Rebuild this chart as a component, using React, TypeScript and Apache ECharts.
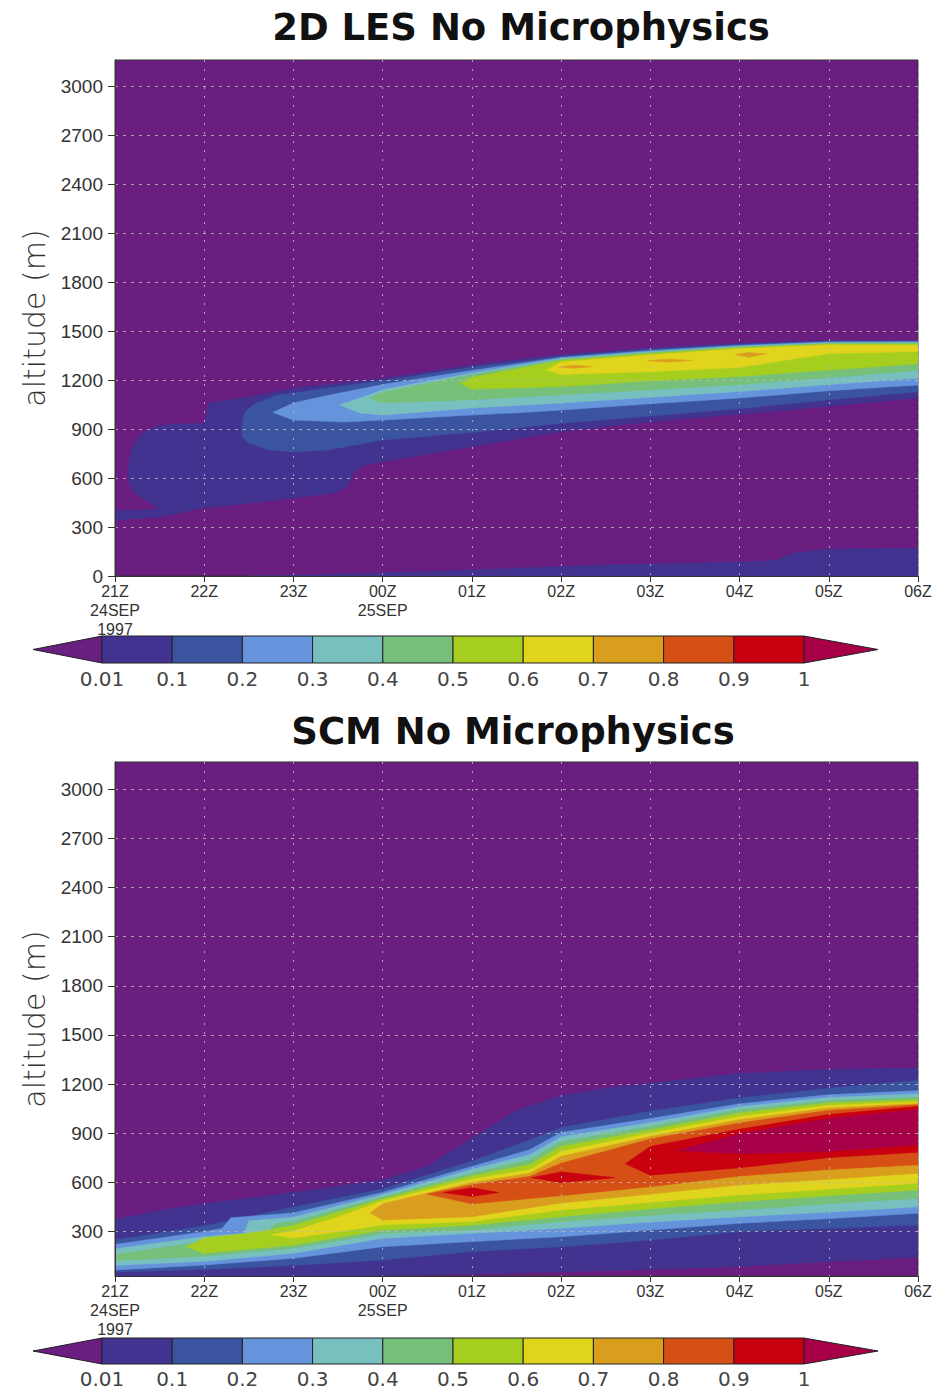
import React, { useEffect, useRef } from 'react';
import * as echarts from 'echarts';

// ---------- axis / legend values ----------
const TIME_LABELS = ['21Z\n24SEP\n1997', '22Z', '23Z', '00Z\n25SEP', '01Z', '02Z', '03Z', '04Z', '05Z', '06Z'];
const ALT_TICKS_LES = [0, 300, 600, 900, 1200, 1500, 1800, 2100, 2400, 2700, 3000];
const ALT_TICKS_SCM = [300, 600, 900, 1200, 1500, 1800, 2100, 2400, 2700, 3000];
const LEVEL_LABELS = ['0.01', '0.1', '0.2', '0.3', '0.4', '0.5', '0.6', '0.7', '0.8', '0.9', '1'];
// colour of: <0.01, 0.01-0.1, 0.1-0.2, ... 0.9-1, >1
const BAND_COLORS = ['#6a1e80', '#433391', '#3a54a0', '#6694dc', '#78c0c0', '#76c07a', '#a6ce1e', '#e0d41c', '#da9e1e', '#d65016', '#c80010', '#a80048'];

// ---------- 2D LES contour regions  [hours after 21Z, altitude m] ----------
const LES_B1_MAIN = [[0.15, 620], [0.15, 690], [0.18, 770], [0.24, 835], [0.32, 880], [0.45, 912], [0.6, 928], [1.0, 935], [1.05, 1060], [1.5, 1095], [2.0, 1150], [2.5, 1180], [3.0, 1210], [3.5, 1250], [4.0, 1292], [4.6, 1330], [5.0, 1355], [6.0, 1396], [7.0, 1425], [8.0, 1442], [9.0, 1442],
  [9.0, 1090], [8.0, 1040], [7.0, 990], [6.0, 945], [5.0, 885], [4.0, 792], [3.0, 700], [2.8, 680], [2.67, 630], [2.6, 545], [2.45, 508], [2.0, 477], [1.0, 416], [0.5, 362], [0.0, 343], [0.0, 400], [0.3, 403], [0.5, 410], [0.32, 470], [0.24, 500], [0.18, 540], [0.155, 580]];
const LES_B1_GROUND = [[1.5, 0], [2.5, 12], [3.5, 28], [4.5, 48], [5.5, 68], [7.0, 85], [7.4, 95], [7.6, 140], [8.0, 165], [9.0, 170], [9.0, 0]];
const LES_B2 = [[1.42, 900], [1.45, 1000], [1.55, 1050], [1.8, 1105], [2.38, 1150], [3.0, 1195], [4.0, 1278], [4.65, 1320], [5.0, 1345], [6.0, 1388], [7.0, 1418], [8.0, 1438], [9.0, 1438],
  [9.0, 1128], [8.0, 1080], [7.0, 1025], [6.0, 980], [5.0, 935], [4.0, 880], [3.0, 833], [2.38, 772], [2.0, 760], [1.7, 775], [1.5, 815], [1.43, 850]];
const LES_B3 = [[1.77, 1002], [2.0, 1060], [2.38, 1105], [3.0, 1172], [4.0, 1258], [4.65, 1310], [5.0, 1338], [6.0, 1380], [7.0, 1412], [8.0, 1433], [9.0, 1434],
  [9.0, 1170], [8.0, 1135], [7.0, 1090], [6.0, 1055], [5.0, 1016], [4.65, 1004], [4.0, 986], [3.0, 955], [2.56, 943], [2.0, 955]];
const LES_B4 = [[2.52, 1047], [2.8, 1100], [3.0, 1140], [4.0, 1242], [4.65, 1300], [5.0, 1332], [6.0, 1374], [7.0, 1407], [8.0, 1428], [9.0, 1430],
  [9.0, 1212], [8.0, 1172], [7.0, 1130], [6.0, 1095], [5.0, 1060], [4.0, 1029], [3.0, 986], [2.75, 998]];
const LES_B5 = [[2.85, 1090], [3.0, 1125], [4.0, 1232], [5.0, 1326], [6.0, 1368], [7.0, 1402], [8.0, 1424], [9.0, 1426],
  [9.0, 1258], [8.0, 1215], [7.0, 1172], [6.0, 1140], [5.0, 1110], [4.0, 1080], [3.0, 1059]];
const LES_B6 = [[3.87, 1180], [4.0, 1215], [5.0, 1320], [6.0, 1362], [7.0, 1398], [8.0, 1420], [9.0, 1420],
  [9.0, 1300], [8.0, 1262], [7.0, 1222], [6.0, 1195], [5.0, 1160], [4.0, 1145]];
const LES_B7 = [[4.84, 1262], [5.0, 1310], [6.0, 1353], [7.0, 1392], [8.0, 1415], [9.0, 1412],
  [9.0, 1375], [8.0, 1362], [7.0, 1278], [6.0, 1251], [5.0, 1235]];
const LES_B8_A = [[4.98, 1280], [5.15, 1290], [5.35, 1283], [5.15, 1272]];
const LES_B8_B = [[5.97, 1318], [6.2, 1328], [6.47, 1320], [6.2, 1310]];
const LES_B8_C = [[6.95, 1356], [7.1, 1368], [7.3, 1360], [7.1, 1340]];

// ---------- SCM contour regions ----------
const SCM_B1 = [[0, 375], [0.5, 430], [1, 470], [2, 540], [3, 615], [3.5, 700], [4, 870], [4.5, 1040], [5, 1130], [5.5, 1175], [6, 1206], [7, 1265], [8, 1290], [9, 1298],
  [9, 148], [8.5, 130], [8, 118], [7, 88], [6, 70], [5, 56], [4, 42], [3, 33], [2.5, 30], [0, 30]];
const SCM_B2 = [[0, 250], [1, 335], [2, 450], [3, 560], [4, 730], [4.65, 860], [5, 935], [6, 1035], [7, 1115], [8, 1175], [9, 1222],
  [9, 342], [8, 320], [7, 301], [6, 250], [5, 209], [4, 179], [3, 128], [2, 95], [1, 70], [0, 55]];
const SCM_B3 = [[0, 222], [1, 300], [1.2, 320], [1.3, 385], [1.9, 410], [2, 415], [3, 540], [4, 698], [4.65, 800], [5, 905], [6, 990], [7, 1080], [8, 1135], [9, 1160],
  [9, 413], [8, 380], [7, 352], [6, 310], [5, 270], [4, 240], [3, 209], [2, 138], [1, 97], [0, 67]];
const SCM_B4 = [[0, 195], [1, 270], [1.45, 290], [1.5, 365], [1.9, 384], [2, 388], [3, 525], [4, 680], [4.65, 770], [5, 878], [6, 965], [7, 1062], [8, 1118], [9, 1140],
  [9, 453], [8, 420], [7, 392], [6, 360], [5, 321], [4, 290], [3, 260], [2, 169], [1, 120], [0, 95]];
const SCM_B5 = [[0, 160], [1, 240], [1.7, 285], [1.8, 350], [2, 362], [3, 512], [4, 657], [4.65, 739], [5, 850], [6, 942], [7, 1044], [8, 1100], [9, 1120],
  [9, 504], [8, 470], [7, 433], [6, 400], [5, 362], [4, 311], [3, 290], [2, 200], [1, 150], [0, 125]];
const SCM_B6 = [[0.8, 209], [1, 262], [1.5, 290], [2, 338], [3, 500], [4, 640], [4.65, 710], [5, 820], [6, 920], [7, 1024], [8, 1085], [9, 1105],
  [9, 555], [8, 520], [7, 484], [6, 440], [5, 392], [4, 340], [3, 311], [2, 219], [1, 169]];
const SCM_B7 = [[1.75, 282], [2, 305], [2.5, 390], [3, 488], [4, 620], [4.65, 678], [5, 789], [6, 901], [7, 1003], [8, 1070], [9, 1092],
  [9, 596], [8, 560], [7, 525], [6, 480], [5, 433], [4, 362], [3, 342], [2.5, 300], [2, 262]];
const SCM_B8 = [[2.86, 415], [3, 470], [4, 600], [4.65, 657], [5, 759], [6, 881], [7, 983], [8, 1055], [9, 1082],
  [9, 657], [8, 620], [7, 586], [6, 530], [5, 476], [4, 392], [3, 372]];
const SCM_B9 = [[3.5, 530], [4, 586], [4.65, 637], [5, 718], [6, 865], [7, 963], [8, 1040], [9, 1074],
  [9, 708], [8, 680], [7, 640], [6, 575], [5, 520], [4, 470]];
const SCM_B10_MAIN = [[5.72, 715], [6, 820], [7, 925], [8, 1015], [9, 1064], [9, 785], [8, 752], [7, 690], [6, 645]];
const SCM_B10_S1 = [[3.68, 540], [4.0, 568], [4.3, 540], [4.0, 515]];
const SCM_B10_S2 = [[4.67, 630], [5.0, 665], [5.6, 630], [5.0, 600]];
const SCM_B11 = [[6.3, 795], [7, 897], [8, 990], [9, 1045], [9, 830], [8, 790], [7, 775]];

const LES_RINGS: [number, number[][]][] = [
  [1, LES_B1_MAIN], [1, LES_B1_GROUND], [2, LES_B2], [3, LES_B3], [4, LES_B4], [5, LES_B5], [6, LES_B6], [7, LES_B7],
  [8, LES_B8_A], [8, LES_B8_B], [8, LES_B8_C],
];
const SCM_RINGS: [number, number[][]][] = [
  [1, SCM_B1], [2, SCM_B2], [3, SCM_B3], [4, SCM_B4], [5, SCM_B5], [6, SCM_B6], [7, SCM_B7], [8, SCM_B8], [9, SCM_B9],
  [10, SCM_B10_MAIN], [10, SCM_B10_S1], [10, SCM_B10_S2], [11, SCM_B11],
];

const AXIS_COLOR = '#333';
const GRID_COLOR = 'rgba(185,185,185,0.85)';

function xAxisCfg(gi: number) {
  return {
    gridIndex: gi, type: 'value', min: 0, max: 9, interval: 1, z: 10,
    axisLine: { show: true, lineStyle: { color: AXIS_COLOR, width: 1 } },
    axisTick: { show: true, length: 6, lineStyle: { color: AXIS_COLOR } },
    axisLabel: {
      formatter: (v: number) => TIME_LABELS[Math.round(v)] ?? '',
      fontFamily: 'Liberation Sans', fontSize: 16, lineHeight: 19, color: '#333', margin: 6,
    },
    splitLine: { show: true, lineStyle: { color: GRID_COLOR, type: [2, 7], width: 1 } },
  };
}

function yAxisCfg(gi: number, min: number, max: number, ticks: number[]) {
  return {
    gridIndex: gi, type: 'value', min, max, z: 10,
    name: 'altitude (m)', nameLocation: 'middle', nameGap: 66, nameRotate: 90,
    nameTextStyle: { fontFamily: 'DejaVu Sans', fontSize: 30, color: '#333', fontWeight: 200 },
    axisLine: { show: true, lineStyle: { color: AXIS_COLOR, width: 1 } },
    axisTick: { show: true, length: 7, customValues: ticks, lineStyle: { color: AXIS_COLOR } },
    axisLabel: {
      customValues: ticks, margin: 12, fontFamily: 'Liberation Sans', fontSize: 19, color: '#333',
      formatter: (v: number) => String(Math.round(v)),
    },
    splitLine: { show: true, lineStyle: { color: GRID_COLOR, type: [3, 5], width: 1 } },
  };
}

function contourSeries(gi: number, rings: [number, number[][]][]) {
  return {
    type: 'custom', xAxisIndex: gi, yAxisIndex: gi, clip: true, silent: true, z: 2,
    data: rings.map((r) => [r[1][0][0], r[1][0][1]]),
    encode: { x: 0, y: 1 },
    renderItem: (params: any, api: any) => {
      const r = rings[params.dataIndex];
      const c = BAND_COLORS[r[0]];
      return {
        type: 'polygon',
        shape: { points: r[1].map((p) => api.coord(p)) },
        style: { fill: c, stroke: c, lineWidth: 0.6 },
      };
    },
  };
}

function colorBar(y0: number, h: number, labelY: number) {
  const left = 102;
  const step = 70.2;
  const els: any[] = [];
  els.push({
    type: 'polygon', z: 100,
    shape: { points: [[33, y0 + h / 2], [left, y0], [left, y0 + h]] },
    style: { fill: BAND_COLORS[0], stroke: '#222', lineWidth: 1 },
  });
  for (let i = 0; i < LEVEL_LABELS.length - 1; i++) {
    els.push({
      type: 'rect', z: 100,
      shape: { x: left + i * step, y: y0, width: step, height: h },
      style: { fill: BAND_COLORS[i + 1], stroke: '#222', lineWidth: 1 },
    });
  }
  const right = left + step * (LEVEL_LABELS.length - 1);
  els.push({
    type: 'polygon', z: 100,
    shape: { points: [[right, y0], [878, y0 + h / 2], [right, y0 + h]] },
    style: { fill: BAND_COLORS[BAND_COLORS.length - 1], stroke: '#222', lineWidth: 1 },
  });
  LEVEL_LABELS.forEach((lab, i) => {
    els.push({
      type: 'text', z: 100, x: left + i * step, y: labelY,
      style: { text: lab, fontFamily: 'DejaVu Sans', fontSize: 20, fill: '#444', align: 'center', verticalAlign: 'middle' },
    });
  });
  return els;
}

export default function App() {
  const ref = useRef<HTMLDivElement>(null);
  useEffect(() => {
    document.body.style.margin = '0';
    const chart = echarts.init(ref.current!, undefined, { renderer: 'svg' });
    const option: any = {
      animation: false,
      backgroundColor: '#ffffff',
      grid: [
        { left: 115, top: 60, width: 803, height: 516, show: true, backgroundColor: BAND_COLORS[0], borderColor: AXIS_COLOR, borderWidth: 1 },
        { left: 115, top: 762, width: 803, height: 514, show: true, backgroundColor: BAND_COLORS[0], borderColor: AXIS_COLOR, borderWidth: 1 },
      ],
      xAxis: [xAxisCfg(0), xAxisCfg(1)],
      yAxis: [yAxisCfg(0, 0, 3160, ALT_TICKS_LES), yAxisCfg(1, 30, 3165, ALT_TICKS_SCM)],
      series: [contourSeries(0, LES_RINGS), contourSeries(1, SCM_RINGS)],
      graphic: [
        {
          type: 'text', z: 100, x: 521, y: 27,
          style: { text: '2D LES No Microphysics', fontFamily: 'DejaVu Sans', fontWeight: 'bold', fontSize: 37, fill: '#111', align: 'center', verticalAlign: 'middle' },
        },
        {
          type: 'text', z: 100, x: 513, y: 731,
          style: { text: 'SCM No Microphysics', fontFamily: 'DejaVu Sans', fontWeight: 'bold', fontSize: 37, fill: '#111', align: 'center', verticalAlign: 'middle' },
        },
        ...colorBar(636, 27, 679),
        ...colorBar(1338, 26, 1379),
      ],
    };
    chart.setOption(option);
    return () => chart.dispose();
  }, []);
  return <div ref={ref} style={{ position: 'absolute', left: 0, top: 0, width: 940, height: 1393 }} />;
}
